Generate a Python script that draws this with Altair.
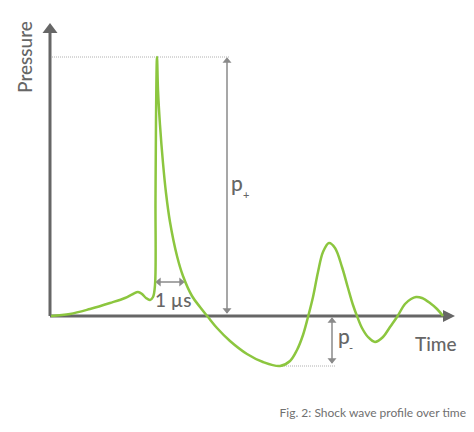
import altair as alt
import pandas as pd

# Shock wave pressure curve (time from pressure axis, pressure above baseline)
time = [1, 20, 40, 60, 75, 83, 88, 92, 96, 100, 103, 105, 105.5, 106, 107,
        108, 110, 113, 116, 120, 127, 133, 142, 150, 158, 167, 180, 197, 213, 230,
        240, 247, 253, 258, 263, 268, 273, 279,
        285, 292, 298, 303, 307, 312, 318, 325,
        333, 340, 347, 355, 361, 366, 372, 380, 387, 393]
pressure = [0, 2, 7, 13, 18, 22, 24, 22, 18, 16, 19, 31, 116, 196, 259,
            226, 191, 153, 123, 94, 60, 40, 20, 9, -1, -12, -25, -38, -46, -50,
            -45, -34, -19, -1, 19, 44, 64, 73,
            68, 49, 28, 11, 0, -12, -21, -26,
            -21, -11, -1, 12, 17, 19, 18, 13, 7, 0]

axis_labels = ["Pressure", "Time"]
caption = "Fig. 2: Shock wave profile over time"
pulse_label = "1 µs"
pulse_start, pulse_end = 105, 135
p_plus_time = 177
p_minus_time = 282

GREEN = "#8cc63f"
AXIS = "#666666"
ANN = "#8a8a8a"

peak = max(pressure)
trough = min(pressure)

X = lambda f="t": alt.X(f"{f}:Q", scale=alt.Scale(domain=[-42, 416], nice=False, zero=False), axis=None)
Y = lambda f="p": alt.Y(f"{f}:Q", scale=alt.Scale(domain=[-104, 308], nice=False, zero=False), axis=None)

curve_df = pd.DataFrame({"t": time, "p": pressure})
curve = alt.Chart(curve_df).mark_line(color=GREEN, strokeWidth=2.5, interpolate="catmull-rom").encode(x=X(), y=Y())

# axes
axes_df = pd.DataFrame({"t": [0, 0], "p": [0, 0], "t2": [0, 393], "p2": [283, 0]})
axes = alt.Chart(axes_df).mark_rule(color=AXIS, strokeWidth=3).encode(
    x=X(), y=Y(), x2="t2:Q", y2="p2:Q")

up_big = alt.Chart(pd.DataFrame({"t": [0], "p": [288]})).mark_point(
    shape="M0,-0.667L1,0.667L-1,0.667Z", size=225, filled=True, color=AXIS, opacity=1
).encode(x=X(), y=Y())
right_big = alt.Chart(pd.DataFrame({"t": [399], "p": [0]})).mark_point(
    shape="M0.8,0L-0.8,-0.8L-0.8,0.8Z", size=225, filled=True, color=AXIS, opacity=1
).encode(x=X(), y=Y())

# dotted guide lines
guides_df = pd.DataFrame({"t": [2, 230], "t2": [180, 286], "p": [peak, trough]})
guides = alt.Chart(guides_df).mark_rule(color="#b0b0b0", strokeWidth=1, strokeDash=[1, 1]).encode(
    x=X(), x2="t2:Q", y=Y())

# annotation arrows
vert_df = pd.DataFrame({"t": [p_plus_time, p_minus_time], "p": [peak - 2, -2], "p2": [3, trough + 3]})
vert = alt.Chart(vert_df).mark_rule(color=ANN, strokeWidth=1.5).encode(x=X(), y=Y(), y2="p2:Q")
horiz_df = pd.DataFrame({"t": [pulse_start + 2], "t2": [pulse_end - 2], "p": [34]})
horiz = alt.Chart(horiz_df).mark_rule(color=ANN, strokeWidth=1.5).encode(x=X(), x2="t2:Q", y=Y())

small = 81
heads_up = alt.Chart(pd.DataFrame({"t": [p_plus_time, p_minus_time], "p": [peak - 3, -4]})).mark_point(
    shape="M0,-0.6L1,0.6L-1,0.6Z", size=small, filled=True, color=ANN, opacity=1).encode(x=X(), y=Y())
heads_down = alt.Chart(pd.DataFrame({"t": [p_plus_time, p_minus_time], "p": [5, trough + 5]})).mark_point(
    shape="M0,0.6L1,-0.6L-1,-0.6Z", size=small, filled=True, color=ANN, opacity=1).encode(x=X(), y=Y())
heads_left = alt.Chart(pd.DataFrame({"t": [pulse_start + 3], "p": [34]})).mark_point(
    shape="M-0.6,0L0.6,-1L0.6,1Z", size=small, filled=True, color=ANN, opacity=1).encode(x=X(), y=Y())
heads_right = alt.Chart(pd.DataFrame({"t": [pulse_end - 3], "p": [34]})).mark_point(
    shape="M0.6,0L-0.6,-1L-0.6,1Z", size=small, filled=True, color=ANN, opacity=1).encode(x=X(), y=Y())

FONT = "Lato"
W = 500

pressure_txt = alt.Chart(pd.DataFrame({"t": [-24], "p": [259], "s": [axis_labels[0]]})).mark_text(
    font=FONT, fontSize=19, fontWeight=W, color=AXIS, angle=270, align="center", baseline="middle"
).encode(x=X(), y=Y(), text="s:N")
time_txt = alt.Chart(pd.DataFrame({"t": [365], "p": [-29], "s": [axis_labels[1]]})).mark_text(
    font=FONT, fontSize=19, fontWeight=W, color=AXIS, align="left", baseline="middle"
).encode(x=X(), y=Y(), text="s:N")
pulse_txt = alt.Chart(pd.DataFrame({"t": [pulse_start], "p": [9], "s": [pulse_label]})).mark_text(
    font=FONT, fontSize=19, fontWeight=W, color=AXIS, align="left", baseline="alphabetic"
).encode(x=X(), y=Y(), text="s:N")

p_txt = alt.Chart(pd.DataFrame({"t": [181, 288], "p": [125, -28], "s": ["p", "p"]})).mark_text(
    font=FONT, fontSize=21, fontWeight=W, color=AXIS, align="left", baseline="alphabetic"
).encode(x=X(), y=Y(), text="s:N")
sub_txt = alt.Chart(pd.DataFrame({"t": [193, 299], "p": [117, -36], "s": ["+", "-"]})).mark_text(
    font=FONT, fontSize=11, fontWeight=W, color=AXIS, align="left", baseline="alphabetic"
).encode(x=X(), y=Y(), text="s:N")

caption_txt = alt.Chart(pd.DataFrame({"t": [416], "p": [-97], "s": [caption]})).mark_text(
    font=FONT, fontSize=12, color="#707070", align="right", baseline="middle"
).encode(x=X(), y=Y(), text="s:N")

chart = alt.layer(
    guides, axes, up_big, right_big, vert, horiz, heads_up, heads_down, heads_left, heads_right,
    curve, pressure_txt, time_txt, pulse_txt, p_txt, sub_txt, caption_txt
).properties(width=458, height=412, padding=0, background="white").configure_view(stroke=None)

chart.save("out.html", embed_options={"renderer": "svg", "actions": False})
